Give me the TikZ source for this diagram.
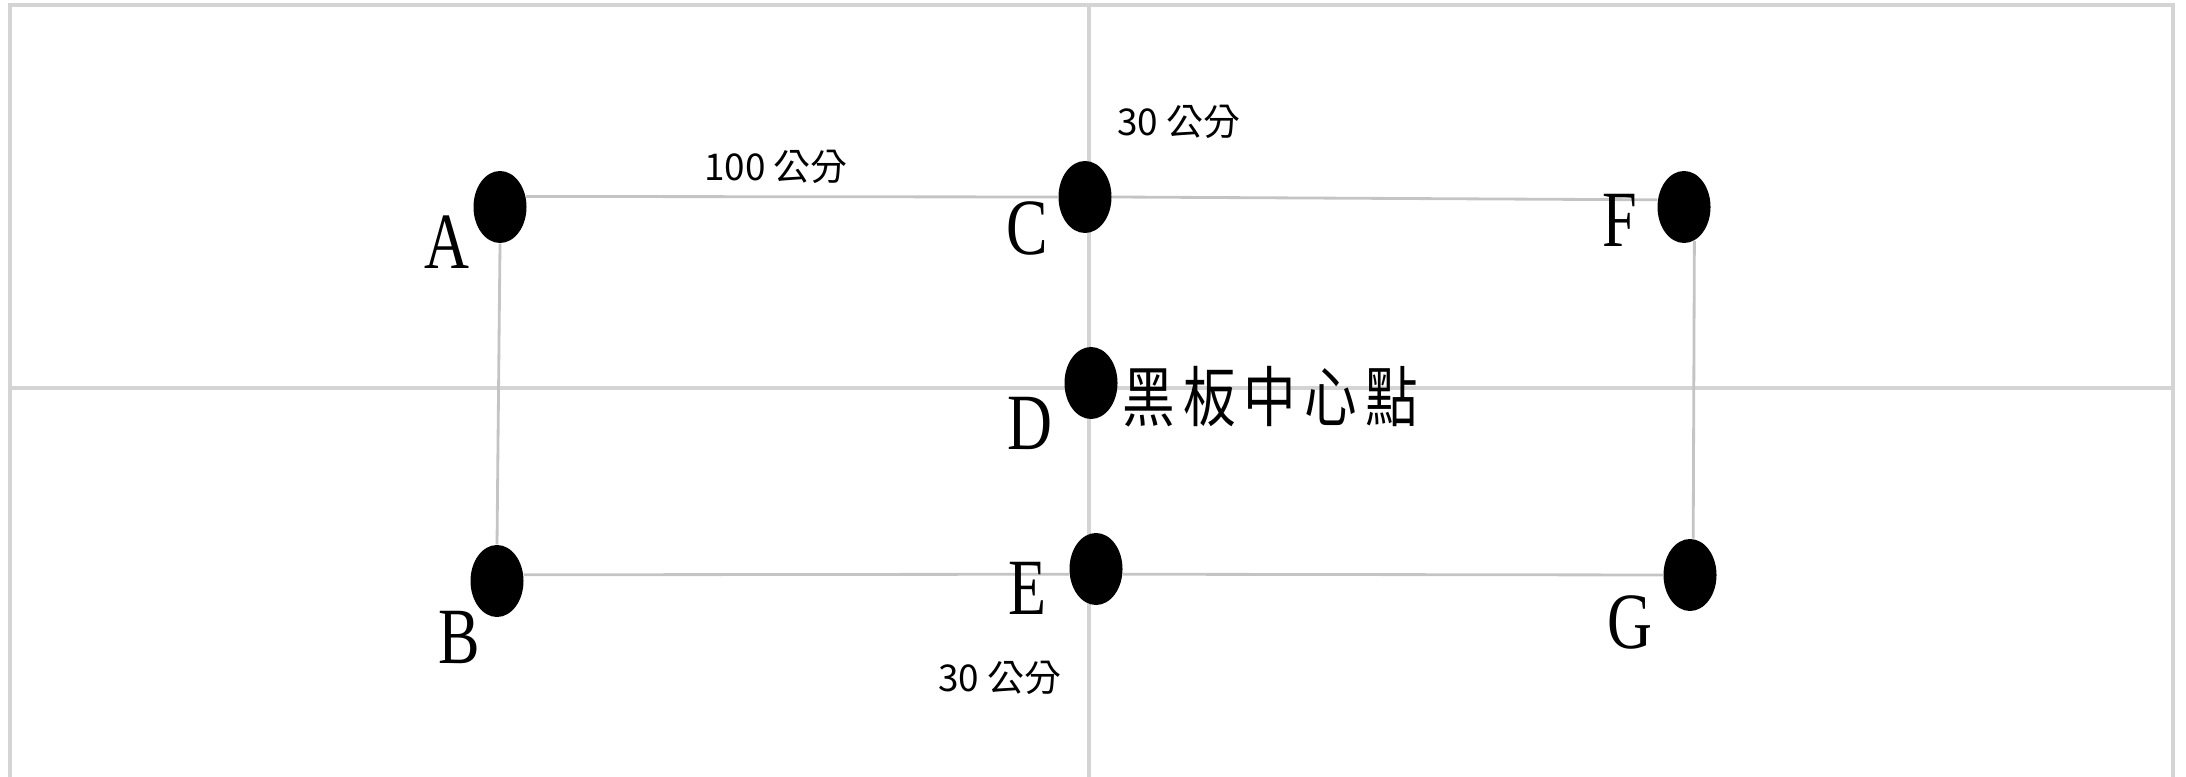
\documentclass[tikz,border=0pt]{standalone}
\usepackage{fontspec}
\usepackage{xcolor}
\usepackage{graphicx}
\usepackage{tikz}
\usetikzlibrary{shapes.geometric,positioning,calc}
\setmainfont{Liberation Serif}
\newfontfamily\cjk{Noto Sans CJK TC}
\definecolor{linkgray}{RGB}{196,196,196}
\definecolor{axisgray}{RGB}{212,212,212}
\newcommand{\narrow}[1]{\scalebox{0.78}[1]{#1}}

\begin{document}
\begin{tikzpicture}[scale=1.0,>=latex,
  dot/.style={ellipse,fill=black,inner sep=0pt,minimum width=0.53cm,minimum height=0.72cm},
  ptlabel/.style={font=\fontsize{22.7}{24}\selectfont,inner sep=0pt},
  lenlabel/.style={font=\cjk\fontsize{10.5}{12}\selectfont,inner sep=0pt},
  link/.style={linkgray,line width=0.8pt},
  axis/.style={axisgray,line width=1pt}]
  \useasboundingbox (0,0) rectangle (21.86,7.77);
  \draw[axisgray,line width=0.9pt] (0.10,0) -- (0.10,7.72) -- (21.73,7.72) -- (21.73,0);
  \draw[axis] (0.10,3.89) -- (21.73,3.89);
  \draw[axis] (10.89,0) -- (10.89,7.72);
  \foreach \n/\x/\y in {A/5.00/5.70,B/4.97/1.96,C/10.85/5.80,D/10.91/3.94,E/10.96/2.08,F/16.84/5.70,G/16.90/2.02}
    \node[dot] (\n) at (\x,\y) {};
  \draw[link] (A.22) -- (C.west) (C.east) -- (F.165) (F.-73) -- (G.85)
    (G.west) -- (E.-11) (E.191) -- (B.13) (B.north) -- (A.south);
  \foreach \n/\x/\y in {A/4.47/5.35,B/4.59/1.40,C/10.27/5.49,D/10.30/3.54,E/10.27/1.89,F/16.20/5.57,G/16.30/1.55}
    \node[ptlabel] (l\n) at (\x,\y) {\narrow{\n}};
  \node[lenlabel] (top) at (7.76,6.10) {100 公分};
  \node[lenlabel] (up) at (11.79,6.55) {30 公分};
  \node[lenlabel] (down) at (10.00,0.99) {30 公分};
  \node[inner sep=0pt,anchor=west] (mid) at (11.22,3.80)
    {\scalebox{0.8}[1]{\cjk\fontsize{18.7}{20}\selectfont 黑\hspace{0.1cm}板\hspace{0.1cm}中\hspace{0.1cm}心\hspace{0.1cm}點}};
\end{tikzpicture}
\end{document}
